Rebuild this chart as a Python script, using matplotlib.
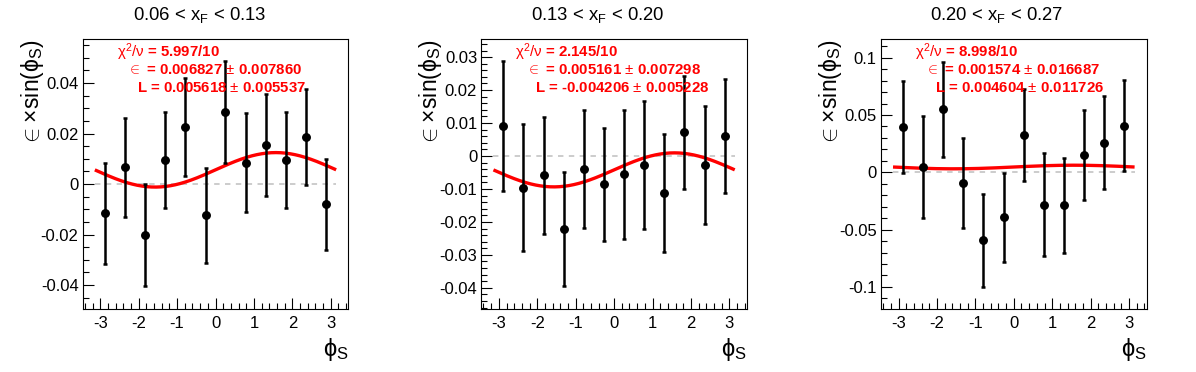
import matplotlib
import numpy as np
import matplotlib.pyplot as plt
from matplotlib.ticker import MultipleLocator, FormatStrFormatter

matplotlib.use('Agg')

plt.rcParams['font.family'] = ['Liberation Sans', 'DejaVu Sans']
plt.rcParams['mathtext.fontset'] = 'custom'
plt.rcParams['mathtext.rm'] = 'Liberation Sans'
plt.rcParams['mathtext.it'] = 'Liberation Sans:italic'
plt.rcParams['mathtext.bf'] = 'Liberation Sans:bold'
plt.rcParams['axes.unicode_minus'] = False

# bin centres in phi_S
phi = [-2.88, -2.36, -1.83, -1.31, -0.79, -0.26, 0.26, 0.79, 1.31, 1.83, 2.36, 2.88]

titles = ['0.06 < $\\mathrm{x_F}$ < 0.13',
          '0.13 < $\\mathrm{x_F}$ < 0.20',
          '0.20 < $\\mathrm{x_F}$ < 0.27']

# measured asymmetry per bin and its error, one list per x_F bin
y1 = [-0.0115, 0.0066, -0.0203, 0.0095, 0.0225, -0.0124, 0.0285, 0.0085, 0.0154, 0.0094, 0.0185, -0.0081]
e1 = [0.0200, 0.0195, 0.0202, 0.0190, 0.0193, 0.0188, 0.0203, 0.0195, 0.0203, 0.0190, 0.0190, 0.0182]
y2 = [0.0090, -0.0096, -0.0059, -0.0222, -0.0039, -0.0086, -0.0056, -0.0027, -0.0112, 0.0072, -0.0027, 0.0060]
e2 = [0.0197, 0.0193, 0.0178, 0.0172, 0.0178, 0.0172, 0.0197, 0.0194, 0.0179, 0.0172, 0.0180, 0.0173]
y3 = [0.0395, 0.0047, 0.0549, -0.0096, -0.0593, -0.0392, 0.0323, -0.0282, -0.0288, 0.0148, 0.0259, 0.0407]
e3 = [0.0400, 0.0446, 0.0416, 0.0394, 0.0407, 0.0387, 0.0403, 0.0446, 0.0414, 0.0394, 0.0405, 0.0394]

# fit results: chi2/ndf, epsilon, L
chi2 = ['5.997/10', '2.145/10', '8.998/10']
eps = [(0.006827, 0.007860), (0.005161, 0.007298), (0.001574, 0.016687)]
L = [(0.005618, 0.005537), (-0.004206, 0.005228), (0.004604, 0.011726)]

ylims = [(-0.0496, 0.0573), (-0.0465, 0.0354), (-0.1195, 0.116)]
ymajor = [0.02, 0.01, 0.05]
yminor = [0.005, 0.002, 0.01]

ys = [y1, y2, y3]
es = [e1, e2, e3]

W, H = 1196, 372
fig = plt.figure(figsize=(W / 100, H / 100), dpi=100)

lefts = [82.7, 481.3, 881.0]
for i in range(3):
    ax = fig.add_axes([lefts[i] / W, (H - 309.3) / H, 265.6 / W, 270 / H])
    ax.set_xlim(-3.456, 3.456)
    ax.set_ylim(*ylims[i])

    # zero reference line
    ax.plot([-np.pi, np.pi], [0, 0], ls='--', color='#c8c8c8', lw=1.3, dashes=(3, 3))

    # fit curve L + eps*sin(phi)
    xf = np.linspace(-3.1, 3.1, 200)
    ax.plot(xf, L[i][0] + eps[i][0] * np.sin(xf), color='red', lw=2.4)

    ax.errorbar(phi, ys[i], yerr=es[i], fmt='o', color='black', ms=5.4,
                elinewidth=1.8, capsize=1.6, capthick=1.8)

    ax.xaxis.set_major_locator(MultipleLocator(1))
    ax.xaxis.set_minor_locator(MultipleLocator(0.2))
    ax.yaxis.set_major_locator(MultipleLocator(ymajor[i]))
    ax.yaxis.set_minor_locator(MultipleLocator(yminor[i]))
    ax.yaxis.set_major_formatter(FormatStrFormatter('%g'))
    ax.tick_params(which='both', direction='in', labelsize=12, top=False, right=False)
    ax.tick_params(which='major', length=8, width=0.8)
    ax.tick_params(which='minor', length=4, width=0.8)
    ax.tick_params(axis='y', pad=3)
    ax.tick_params(axis='x', pad=5)

    ax.text(-0.19, 1.0, '$\\mathrm{\\in\\!\\times\\!sin(\\phi_S)}$', transform=ax.transAxes,
            rotation=90, ha='center', va='top', fontsize=16.5)
    ax.text(1.0, -0.10, '$\\mathrm{\\phi_S}$', transform=ax.transAxes,
            ha='right', va='top', fontsize=17)

    ax.text(0.128, 0.954, '$\\mathrm{\\chi}^{2}/\\mathrm{\\nu}$ = ' + chi2[i], transform=ax.transAxes,
            color='red', fontweight='bold', fontsize=10.8, va='center')
    ax.text(0.1675, 0.886, '$\\in$ = %.6f $\\pm$ %.6f' % eps[i], transform=ax.transAxes,
            color='red', fontweight='bold', fontsize=10.8, va='center')
    ax.text(0.203, 0.819, 'L = %.6f $\\pm$ %.6f' % L[i], transform=ax.transAxes,
            color='red', fontweight='bold', fontsize=10.8, va='center')

    fig.text((i + 0.5) / 3, 1 - 15 / H, titles[i], ha='center', va='center', fontsize=13.3)

fig.savefig('out.png', dpi=100)
